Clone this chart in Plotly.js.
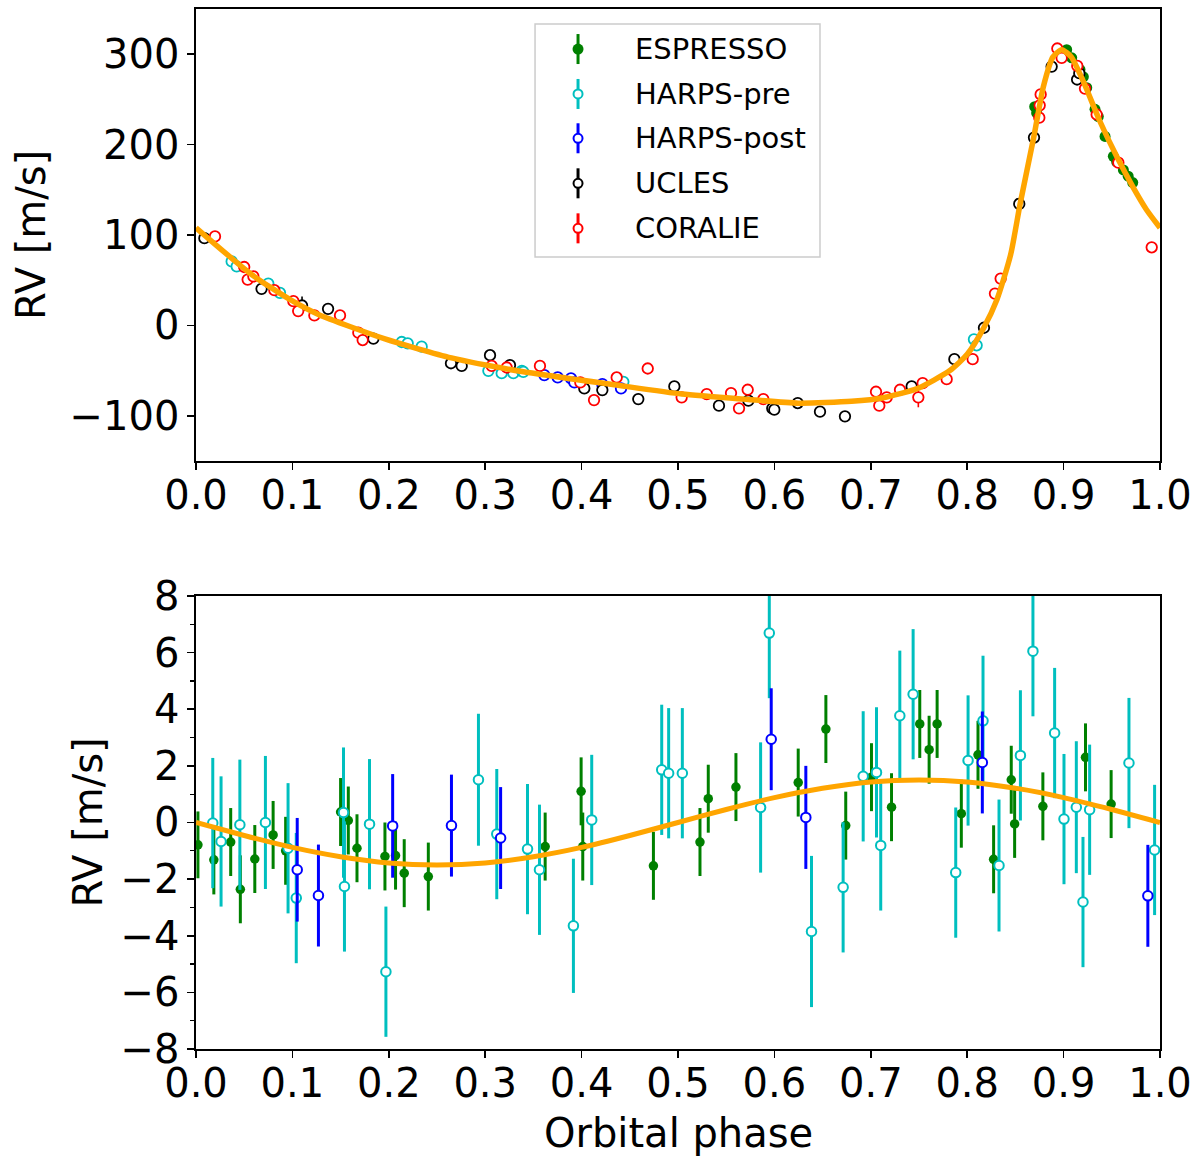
<!DOCTYPE html>
<html>
<head>
<meta charset="utf-8">
<script src="https://cdn.plot.ly/plotly-3.0.1.min.js"></script>
<style>
  html, body { margin: 0; padding: 0; background: #fff; }
  #chart { width: 1200px; height: 1167px; }
</style>
</head>
<body>
<div id="chart"></div>
<script>
/* ── Top panel: RV phase-folded on the outer orbit ── */
var espTopPhase = [0.870, 0.872, 0.9032, 0.9084, 0.917, 0.9205, 0.924, 0.9326, 0.936, 0.943, 0.9516, 0.955, 0.962, 0.967, 0.9717];
var espTopRv    = [242, 235, 305, 296, 283, 275, 263, 239, 231, 209, 187, 181, 172, 165, 158];

var preTopPhase = [0.037, 0.0422, 0.075, 0.0871, 0.2134, 0.2196, 0.2341, 0.3033, 0.3171, 0.3292, 0.338, 0.3395, 0.4433, 0.807, 0.8098];
var preTopRv    = [70.8, 65.3, 46.3, 36, -18.4, -19.8, -23.5, -50.3, -52.9, -52.9, -50.3, -51.4, -62.4, -15.4, -22];

var postTopPhase = [0.3613, 0.3752, 0.389, 0.3925, 0.4215, 0.4409];
var postTopRv    = [-55, -57.6, -58.7, -63.1, -65, -69.7];

var uclesTopPhase = [0.0087, 0.068, 0.110, 0.137, 0.184, 0.2645, 0.2756, 0.305, 0.3257, 0.4028, 0.4215, 0.4588, 0.4962,
                     0.5425, 0.573, 0.5978, 0.5999, 0.6242, 0.6473, 0.6732, 0.7424, 0.7867, 0.8174, 0.854, 0.8693,
                     0.8876, 0.914, 0.9163];
var uclesTopRv    = [96.5, 40.4, 22, 18.3, -14.7, -41.9, -44.8, -33, -44, -69.7, -71.6, -81.5, -67.5,
                     -88.8, -83.3, -91.8, -93.2, -85.9, -95.4, -100.6, -67.5, -37.4, -2.6, 134.4, 207.8,
                     286.3, 272, 279];
var uclesTopErr   = [4, 4, 10, 4, 4, 4, 4, 4, 4, 4, 4, 4, 4,
                     4, 4, 4, 4, 4, 4, 4, 4, 4, 4, 4, 4,
                     4, 4, 4];

var corTopPhase = [0.0197, 0.050, 0.0536, 0.0595, 0.0813, 0.101, 0.106, 0.1228, 0.1494, 0.1684, 0.1729, 0.3067, 0.3223,
                   0.3568, 0.3987, 0.4129, 0.4364, 0.4686, 0.5038, 0.5298, 0.555, 0.5633, 0.5723, 0.5885, 0.7054,
                   0.7088, 0.7165, 0.7303, 0.7493, 0.7538, 0.7787, 0.8057, 0.8288, 0.8347, 0.8748, 0.8752, 0.8762,
                   0.8935, 0.898, 0.9142, 0.9222, 0.9343, 0.9568, 0.9914];
var corTopRv    = [98.4, 64.6, 50.7, 54.3, 38.9, 26.8, 15.8, 11, 11, -8.1, -16.2, -44.8, -46.6,
                   -44.8, -63.1, -82.6, -57.6, -47.7, -79.6, -76, -74.9, -91.8, -71.2, -81.5, -73.4,
                   -88.8, -79.6, -71.2, -79.6, -63.9, -59.5, -37.4, 35.2, 51.8, 229.8, 243.4, 255.5,
                   306.3, 295.9, 287, 262, 233.3, 180, 86.4];
var corTopErr   = [5, 5, 5, 5, 5, 5, 5, 5, 5, 5, 5, 5, 5,
                   5, 5, 5, 5, 5, 5, 5, 5, 5, 5, 5, 5,
                   5, 5, 5, 11, 5, 5, 5, 5, 5, 5, 5, 5,
                   5, 5, 5, 5, 5, 5, 5];

var modelTopPhase = [0, 0.058, 0.1, 0.127, 0.196, 0.265, 0.338, 0.436, 0.504, 0.573, 0.625, 0.68, 0.713, 0.748,
                     0.782, 0.80, 0.817, 0.831, 0.845, 0.855, 0.869, 0.879, 0.889, 0.898, 0.908, 0.920, 0.938,
                     0.955, 0.972, 0.986, 1.0];
var modelTopRv    = [108, 56, 27, 12, -15, -36, -51, -66, -76, -82, -86, -84, -80, -70,
                     -50, -32, -3, 29, 78, 135, 208, 264, 297, 305, 297, 271, 225,
                     187, 153, 128, 108];

/* ── Bottom panel: residuals phase-folded on the inner orbit ── */
var espResPhase = [0.002, 0.0185, 0.036, 0.046, 0.061, 0.080, 0.093, 0.150, 0.158, 0.167, 0.196, 0.207, 0.216, 0.241,
                   0.3622, 0.3995, 0.4012, 0.4745, 0.5228, 0.5314, 0.5601, 0.6247, 0.6534, 0.674, 0.7007, 0.7215,
                   0.7508, 0.7605, 0.7688, 0.7939, 0.8112, 0.8274, 0.8457, 0.8492, 0.8785, 0.9227, 0.9493];
var espResRv    = [-0.79, -1.32, -0.69, -2.36, -1.29, -0.44, -1.0, 0.37, 0.07, -0.91, -1.2, -1.17, -1.79, -1.91,
                   -0.85, 1.10, -0.85, -1.53, -0.69, 0.84, 1.25, 1.41, 3.30, -0.11, 1.6, 0.54,
                   3.48, 2.57, 3.48, 0.31, 2.39, -1.30, 1.51, -0.05, 0.57, 2.30, 0.65];
var espResErr   = [1.18, 1.22, 1.2, 1.2, 1.2, 1.2, 1.2, 1.2, 1.2, 1.2, 1.2, 1.2, 1.2, 1.2,
                   1.2, 1.2, 1.2, 1.2, 1.2, 1.2, 1.2, 1.2, 1.2, 1.2, 1.2, 1.2,
                   1.2, 1.2, 1.2, 1.2, 1.2, 1.2, 1.2, 1.2, 1.2, 1.2, 1.2];

var preResPhase = [0.0174, 0.026, 0.0455, 0.072, 0.0955, 0.104, 0.153, 0.154, 0.180, 0.197, 0.293, 0.312, 0.3439,
                   0.3563, 0.3915, 0.4105, 0.4831, 0.4903, 0.5045, 0.5857, 0.5947, 0.6385, 0.6713, 0.6921, 0.7059,
                   0.7103, 0.7301, 0.7439, 0.7881, 0.8009, 0.8164, 0.8330, 0.8552, 0.8682, 0.8907, 0.9004, 0.9132,
                   0.9201, 0.9270, 0.9678, 0.9944];
var preResRv    = [-0.02, -0.67, -0.08, 0.0, -0.91, -2.67, 0.35, -2.26, -0.06, -5.27, 1.51, -0.41, -0.94,
                   -1.67, -3.65, 0.09, 1.86, 1.74, 1.74, 0.53, 6.69, -3.85, -2.29, 1.63, 1.77,
                   -0.81, 3.77, 4.53, -1.77, 2.19, 3.59, -1.52, 2.37, 6.05, 3.16, 0.12, 0.54,
                   -2.81, 0.45, 2.10, -0.97];
var preResErr   = [2.3, 2.3, 2.3, 2.35, 2.3, 2.3, 2.3, 2.3, 2.3, 2.3, 2.33, 2.3, 2.3,
                   2.3, 2.37, 2.3, 2.3, 2.3, 2.3, 2.3, 2.3, 2.67, 2.3, 2.3, 2.3,
                   2.3, 2.3, 2.3, 2.3, 2.3, 2.3, 2.33, 2.3, 2.3, 2.3, 2.3, 2.33,
                   2.3, 2.3, 2.3, 2.3];

var postResPhase = [0.105, 0.127, 0.204, 0.265, 0.316, 0.5967, 0.6326, 0.8157, 0.9874];
var postResRv    = [-1.67, -2.58, -0.12, -0.11, -0.55, 2.94, 0.18, 2.12, -2.59];
var postResErr   = [1.83, 1.8, 1.83, 1.8, 1.8, 1.8, 1.82, 1.8, 1.8];

var modelResPhase = [0, 0.05, 0.1, 0.15, 0.2, 0.25, 0.3, 0.35, 0.4, 0.45, 0.5,
                     0.55, 0.6, 0.65, 0.7, 0.75, 0.8, 0.85, 0.9, 0.95, 1.0];
var modelResRv    = [0, -0.46, -0.88, -1.21, -1.43, -1.5, -1.43, -1.21, -0.88, -0.46, 0,
                     0.46, 0.88, 1.21, 1.43, 1.5, 1.43, 1.21, 0.88, 0.46, 0];

/* ── Tick labels and legend entries ── */
var phaseTicks = [0, 0.1, 0.2, 0.3, 0.4, 0.5, 0.6, 0.7, 0.8, 0.9, 1.0];
var rvTicks    = [-100, 0, 100, 200, 300];
var resTicks   = [-8, -6, -4, -2, 0, 2, 4, 6, 8];
var legendNames = ['ESPRESSO', 'HARPS-pre', 'HARPS-post', 'UCLES', 'CORALIE'];

(function () {
  'use strict';

  /* ── Colours (matplotlib defaults) ── */
  var C = {
    espresso: '#008000',
    pre:      '#00bfbf',
    post:     '#0000ff',
    ucles:    '#000000',
    coralie:  '#ff0000',
    model:    '#ffa500',
  };
  var legendColors = [C.espresso, C.pre, C.post, C.ucles, C.coralie];
  var FONT = 'DejaVu Sans, Verdana, sans-serif';

  /* ── One instrument as points with error bars ── */
  function pts(x, y, err, name, col, filled, axes, opts) {
    opts = opts || {};
    return {
      type: 'scatter', mode: 'markers',
      x: x, y: y,
      xaxis: axes[0], yaxis: axes[1],
      name: name, showlegend: false,
      error_y: {
        type: 'data', array: err, visible: true,
        color: col, thickness: opts.barW || 1.6, width: 0,
      },
      marker: {
        symbol: 'circle',
        size: opts.size || 10.5,
        color: filled ? col : '#ffffff',
        line: { color: col, width: filled ? 0 : (opts.lineW || 1.8) },
      },
      hoverinfo: 'skip',
    };
  }

  function model(x, y, axes, w) {
    return {
      type: 'scatter', mode: 'lines',
      x: x, y: y, xaxis: axes[0], yaxis: axes[1],
      line: { color: C.model, width: w, shape: 'spline', smoothing: 0.6 },
      showlegend: false, hoverinfo: 'skip',
    };
  }

  var top = ['x', 'y'], bot = ['x2', 'y2'];

  var traces = [
    pts(espTopPhase, espTopRv, espTopRv.map(function () { return 0.6; }), 'ESPRESSO', C.espresso, true, top, { size: 11 }),
    pts(preTopPhase, preTopRv, preTopRv.map(function () { return 1; }), 'HARPS-pre', C.pre, false, top),
    pts(postTopPhase, postTopRv, postTopRv.map(function () { return 1; }), 'HARPS-post', C.post, false, top),
    pts(uclesTopPhase, uclesTopRv, uclesTopErr, 'UCLES', C.ucles, false, top),
    pts(corTopPhase, corTopRv, corTopErr, 'CORALIE', C.coralie, false, top),
    model(modelTopPhase, modelTopRv, top, 5.5),

    pts(espResPhase, espResRv, espResErr, 'ESPRESSO', C.espresso, true, bot, { size: 9.5, barW: 3 }),
    pts(preResPhase, preResRv, preResErr, 'HARPS-pre', C.pre, false, bot, { size: 9.5, barW: 3, lineW: 2 }),
    pts(postResPhase, postResRv, postResErr, 'HARPS-post', C.post, false, bot, { size: 9.5, barW: 3, lineW: 2 }),
    model(modelResPhase, modelResRv, bot, 5),
  ];

  /* ── Legend drawn by hand: errorbar glyph + label ── */
  var LEG = { x0: 0.3517, x1: 0.6473, y0: 0.7615, y1: 0.9856, mx: 0.3963, tx: 0.4533 };
  var legRows = [0.9615, 0.9183, 0.8757, 0.8324, 0.7891];

  var shapes = [{
    type: 'rect', xref: 'paper', yref: 'paper',
    x0: LEG.x0, x1: LEG.x1, y0: LEG.y0, y1: LEG.y1,
    fillcolor: '#ffffff', line: { color: '#cccccc', width: 1.5 },
  }];
  var ann = [];

  legendNames.forEach(function (name, i) {
    var col = legendColors[i], yy = legRows[i], filled = i === 0;
    shapes.push({
      type: 'line', xref: 'paper', yref: 'paper',
      xsizemode: 'pixel', ysizemode: 'pixel',
      xanchor: LEG.mx, yanchor: yy,
      x0: 0, x1: 0, y0: -15, y1: 15,
      line: { color: col, width: 3 },
    });
    var r = filled ? 5.5 : 4.5;
    shapes.push({
      type: 'circle', xref: 'paper', yref: 'paper',
      xsizemode: 'pixel', ysizemode: 'pixel',
      xanchor: LEG.mx, yanchor: yy,
      x0: -r, x1: r, y0: -r, y1: r,
      fillcolor: filled ? col : '#ffffff',
      line: { color: col, width: filled ? 0 : 2 },
    });
    ann.push({
      xref: 'paper', yref: 'paper', x: LEG.tx, y: yy,
      xanchor: 'left', yanchor: 'middle', showarrow: false,
      text: name, font: { size: 29, family: FONT, color: '#000' },
    });
  });

  /* ── Axis titles ── */
  var titleFont = { size: 40, family: FONT, color: '#000' };
  ann.push({
    xref: 'paper', yref: 'paper', x: -0.1712, y: 0.7827, textangle: -90,
    xanchor: 'center', yanchor: 'middle', showarrow: false,
    text: 'RV [m/s]', font: titleFont,
  });
  ann.push({
    xref: 'paper', yref: 'paper', x: -0.112, y: 0.2178, textangle: -90,
    xanchor: 'center', yanchor: 'middle', showarrow: false,
    text: 'RV [m/s]', font: titleFont,
  });
  ann.push({
    xref: 'paper', yref: 'paper', x: 0.5, y: -0.0808,
    xanchor: 'center', yanchor: 'middle', showarrow: false,
    text: 'Orbital phase', font: titleFont,
  });

  /* ── Shared axis style ── */
  function ax(extra) {
    var a = {
      showline: true, mirror: true, linecolor: '#000', linewidth: 1.6,
      ticks: 'outside', ticklen: 7, tickwidth: 1.6, tickcolor: '#000',
      tickfont: { size: 40, color: '#000', family: FONT },
      showgrid: false, zeroline: false, fixedrange: true,
    };
    Object.keys(extra).forEach(function (k) { a[k] = extra[k]; });
    return a;
  }

  var layout = {
    width: 1200, height: 1167,
    margin: { l: 196, r: 40, t: 9, b: 118 },
    paper_bgcolor: '#fff', plot_bgcolor: '#fff',
    font: { family: FONT, color: '#000' },
    showlegend: false,
    xaxis: ax({
      domain: [0, 1], range: [0, 1], anchor: 'y',
      tickvals: phaseTicks, tickformat: '.1f', ticklabelstandoff: -9,
    }),
    yaxis: ax({
      domain: [0.5654, 1], range: [-150, 350], anchor: 'x',
      tickvals: rvTicks, ticklabelstandoff: 0,
    }),
    xaxis2: ax({
      domain: [0, 1], range: [0, 1], anchor: 'y2',
      tickvals: phaseTicks, tickformat: '.1f', ticklabelstandoff: -9,
    }),
    yaxis2: ax({
      domain: [0, 0.4356], range: [-8, 8], anchor: 'x2',
      tickvals: resTicks, ticklabelstandoff: 0,
      minor: { dtick: 1, tick0: 0, ticks: 'outside', ticklen: 4, tickwidth: 1.2, tickcolor: '#000', showgrid: false },
    }),
    shapes: shapes,
    annotations: ann,
  };

  Plotly.newPlot('chart', traces, layout, { displayModeBar: false, staticPlot: true });
})();
</script>
</body>
</html>
